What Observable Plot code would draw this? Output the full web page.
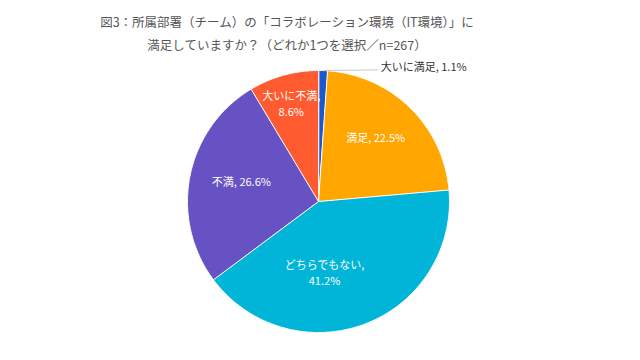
<!DOCTYPE html>
<html><head><meta charset="utf-8">
<script src="https://cdn.jsdelivr.net/npm/d3@7"></script>
<script src="https://cdn.jsdelivr.net/npm/@observablehq/plot@0.6"></script>
<style>
body{margin:0;background:#fff;font-family:"Noto Sans CJK JP",sans-serif;}
#title{width:574px;height:58px;box-sizing:border-box;padding-top:10px;text-align:center;color:#555;font-size:12.5px;line-height:23px;}
</style></head><body>
<div id="title">図3：所属部署（チーム）の「コラボレーション環境（IT環境）」に<br>満足していますか？（どれか1つを選択／n=267）</div>
<div id="chart"></div>
<script>
// data
const categories = ["大いに満足", "満足", "どちらでもない", "不満", "大いに不満"];
const values = [1.1, 22.5, 41.2, 26.6, 8.6];
const colors = ["#1c58c9", "#ffa600", "#00b5d8", "#6652c2", "#ff5a30"];
const labelTexts = ["大いに満足, 1.1%", "満足, 22.5%", "どちらでもない,\n41.2%", "不満, 26.6%", "大いに不満,\n8.6%"];

// layout
const R = 131, cx = 318, cy = 143;
const labelLayout = [null, {r: 0.66, da: -3}, {r: 0.54, da: 16}, {r: 0.61, da: 4}, {r: 0.78, da: 0}];
const outside = {x: 0.475, y: 1.02, lx: 0.455, ly: 1.005};

const total = d3.sum(values);
let acc = 0;
const slices = categories.map((c, i) => {
  const a0 = acc / total * 2 * Math.PI; acc += values[i];
  const a1 = acc / total * 2 * Math.PI;
  return {c, v: values[i], a0, a1, mid: (a0 + a1) / 2, label: labelTexts[i], i};
});
const pts = [];
slices.forEach(s => {
  pts.push({c: s.c, x: 0, y: 0});
  const n = Math.max(2, Math.ceil((s.a1 - s.a0) / (Math.PI / 360)));
  for (let k = 0; k <= n; k++) {
    const a = s.a0 + (s.a1 - s.a0) * k / n;
    pts.push({c: s.c, x: Math.sin(a), y: Math.cos(a)});
  }
});
const inside = slices.filter(s => labelLayout[s.i]).map(s => {
  const L = labelLayout[s.i];
  const a = s.mid + L.da * Math.PI / 180;
  return {label: s.label, x: L.r * Math.sin(a), y: L.r * Math.cos(a)};
});
const small = slices[0];
const leader = [{x1: Math.sin(small.mid), y1: Math.cos(small.mid), x2: outside.lx, y2: outside.ly}];
const outLabel = [{label: small.label, x: outside.x, y: outside.y}];

const chart = Plot.plot({
  width: 640, height: 302,
  margin: 0,
  x: {domain: [-1, 1], range: [cx - R, cx + R], axis: null},
  y: {domain: [-1, 1], range: [cy + R, cy - R], axis: null},
  color: {domain: categories, range: colors},
  style: {fontFamily: '"Noto Sans CJK JP", sans-serif', background: "#fff"},
  marks: [
    Plot.line(pts, {x: "x", y: "y", z: "c", fill: "c", stroke: "#fff", strokeWidth: 1, curve: "linear-closed"}),
    Plot.link(leader, {x1: "x1", y1: "y1", x2: "x2", y2: "y2", stroke: "#c8c8c8", strokeWidth: 1}),
    Plot.text(inside, {x: "x", y: "y", text: "label", fill: "#fff", fontSize: 11, lineHeight: 1.45}),
    Plot.text(outLabel, {x: "x", y: "y", text: "label", fill: "#333", fontSize: 11, textAnchor: "start"})
  ]
});
document.getElementById("chart").appendChild(chart);
</script>
</body></html>
